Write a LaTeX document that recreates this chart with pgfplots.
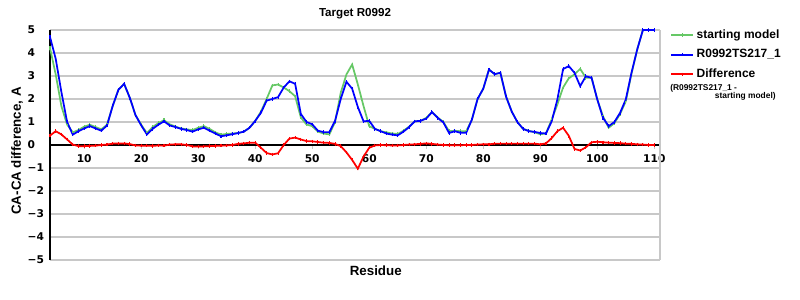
\documentclass[border=0pt]{standalone}
\usepackage{pgfplots}
\pgfplotsset{compat=1.18}
\usepackage{pgfplotstable}
\usepackage{fontspec}
\setmainfont{Liberation Sans}
\newfontfamily\dejavu{DejaVu Sans}

\definecolor{cgreen}{RGB}{102,200,102}
\definecolor{cblue}{RGB}{0,0,255}
\definecolor{cred}{RGB}{255,0,0}
\definecolor{cgrid}{RGB}{200,200,200}

\pgfplotstableread{
r green blue red
4 4.22 4.70 0.41
5 3.07 3.75 0.60
6 1.69 2.30 0.46
7 0.89 1.00 0.24
8 0.55 0.45 0.02
9 0.65 0.60 -0.05
10 0.80 0.72 -0.05
11 0.88 0.82 -0.04
12 0.78 0.72 -0.03
13 0.68 0.62 0.00
14 0.88 0.85 0.02
15 1.70 1.70 0.06
16 2.40 2.40 0.07
17 2.66 2.66 0.07
18 2.05 2.05 0.04
19 1.30 1.30 -0.02
20 0.88 0.85 -0.03
21 0.52 0.46 -0.03
22 0.78 0.70 -0.04
23 0.95 0.88 -0.02
24 1.08 1.03 -0.03
25 0.90 0.85 0.02
26 0.80 0.78 0.03
27 0.72 0.70 0.03
28 0.68 0.65 0.00
29 0.65 0.58 -0.06
30 0.75 0.68 -0.07
31 0.82 0.75 -0.06
32 0.70 0.62 -0.05
33 0.55 0.50 -0.04
34 0.45 0.38 -0.03
35 0.48 0.42 -0.02
36 0.50 0.47 0.00
37 0.52 0.52 0.05
38 0.58 0.58 0.07
39 0.75 0.75 0.10
40 1.05 1.05 0.10
41 1.45 1.40 -0.12
42 2.00 1.93 -0.35
43 2.59 2.00 -0.41
44 2.63 2.08 -0.36
45 2.50 2.50 0.00
46 2.34 2.77 0.28
47 2.12 2.66 0.32
48 1.20 1.35 0.24
49 0.89 1.00 0.17
50 0.82 0.90 0.16
51 0.58 0.62 0.13
52 0.50 0.56 0.10
53 0.46 0.56 0.09
54 1.00 1.05 0.05
55 2.27 2.00 -0.05
56 3.07 2.75 -0.32
57 3.50 2.45 -0.65
58 2.63 1.65 -1.03
59 1.69 1.03 -0.50
60 0.82 1.05 -0.12
61 0.70 0.70 -0.02
62 0.60 0.60 0.00
63 0.55 0.50 -0.01
64 0.50 0.45 -0.02
65 0.48 0.42 -0.02
66 0.62 0.58 0.00
67 0.80 0.78 0.02
68 1.03 1.03 0.03
69 1.05 1.05 0.05
70 1.18 1.15 0.07
71 1.43 1.43 0.05
72 1.20 1.18 0.02
73 1.00 0.98 0.00
74 0.60 0.52 -0.01
75 0.62 0.60 -0.01
76 0.60 0.53 -0.01
77 0.60 0.53 0.00
78 1.10 1.10 0.00
79 2.00 2.00 0.02
80 2.45 2.45 0.03
81 3.28 3.28 0.03
82 3.08 3.08 0.06
83 3.14 3.14 0.06
84 2.10 2.10 0.06
85 1.45 1.45 0.06
86 0.99 0.99 0.06
87 0.70 0.70 0.06
88 0.62 0.60 0.06
89 0.55 0.57 0.06
90 0.47 0.52 0.03
91 0.50 0.50 0.07
92 1.11 1.03 0.30
93 1.76 1.98 0.60
94 2.50 3.30 0.75
95 2.90 3.43 0.40
96 3.07 3.14 -0.17
97 3.31 2.56 -0.24
98 2.92 2.99 -0.10
99 2.92 2.92 0.12
100 1.98 1.98 0.14
101 1.25 1.18 0.12
102 0.75 0.82 0.10
103 0.95 1.00 0.09
104 1.35 1.40 0.08
105 1.90 1.98 0.06
106 3.10 3.14 0.05
107 4.15 4.15 0.03
108 5.00 5.00 0.02
109 5.00 5.00 0.00
110 5.00 5.00 0.00
}\datatable

\begin{document}
\begin{tikzpicture}
\begin{axis}[
  at={(0,0)}, anchor=south west,
  scale only axis, width=457.5pt, height=172.5pt,
  xmin=4, xmax=111, ymin=-5, ymax=5,
  axis x line=middle, axis y line=left,
  axis line style={-, black, line width=0.8pt},
  xtick={10,20,...,110},
  ytick={-5,-4,...,5},
  yticklabels={−5,−4,−3,−2,−1,0,1,2,3,4,5},
  ymajorgrids, grid style={cgrid, line width=0.8pt},
  tick label style={font=\dejavu\bfseries\fontsize{8}{9}\selectfont},
  /pgf/number format/assume math mode=true,
  ytick style={draw=none},
  xtick style={cgrid, line width=0.8pt},
  tick align=outside, major tick length=3pt,
  xticklabel style={yshift=-1pt},
  yticklabel style={anchor=west, inner sep=0pt, xshift=-14pt},
  clip=false,
  xlabel={Residue},
  xlabel style={at={(axis description cs:0.534,-0.048)}, anchor=center,
    font=\bfseries\fontsize{10}{12}\selectfont},
  ylabel={CA-CA difference, A},
  ylabel style={at={(axis description cs:-0.054,0.474)}, anchor=center, rotate=0,
    font=\bfseries\fontsize{10}{12}\selectfont},
  legend style={at={(1.0164,1.014)}, anchor=north west, draw=none, fill=none,
    font=\bfseries\fontsize{9}{10}\selectfont, row sep=2.8pt, inner sep=0pt,
    cells={anchor=west}},
  legend image code/.code={\draw[#1, mark repeat=2, mark phase=2] plot coordinates {(0pt,0pt) (8.25pt,0pt) (16.5pt,0pt)};},
  every axis plot/.append style={line width=1.3pt, mark=|, mark size=1.3pt, mark options={line width=0.8pt}},
]
\addplot[cgreen] table[x=r, y=green] {\datatable};
\addlegendentry{starting model}
\addplot[cblue] table[x=r, y=blue] {\datatable};
\addlegendentry{R0992TS217\_1}
\addplot[cred] table[x=r, y=red] {\datatable};
\addlegendentry{Difference}
\draw[cgrid, line width=0.8pt] (rel axis cs:1,0) -- (rel axis cs:1,1);
\node[anchor=center, inner sep=0pt, font=\bfseries\fontsize{8.7}{10}\selectfont] at (rel axis cs:0.5,1.07) {Target R0992};
\node[anchor=west, inner sep=0pt, font=\bfseries\fontsize{6.3}{7}\selectfont] at (rel axis cs:1.0164,0.748) {(R0992TS217\_1 -};
\node[anchor=east, inner sep=0pt, font=\bfseries\fontsize{6.3}{7}\selectfont] at (rel axis cs:1.19,0.713) {starting model)};
\end{axis}
\pgfresetboundingbox
\path[use as bounding box] (-37.5pt,-30pt) rectangle (562.5pt,195pt);
\end{tikzpicture}
\end{document}
